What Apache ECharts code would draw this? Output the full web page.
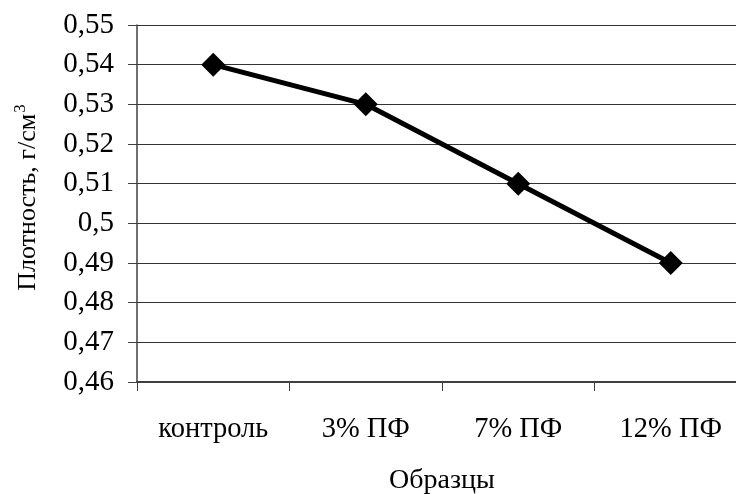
<!DOCTYPE html>
<html>
<head>
<meta charset="utf-8">
<script src="https://cdn.jsdelivr.net/npm/echarts@6/dist/echarts.min.js"></script>
<style>html,body{margin:0;padding:0;background:#fff}#c{width:736px;height:494px}</style>
</head>
<body>
<div id="c"></div>
<script>
const categories = ['контроль', '3% ПФ', '7% ПФ', '12% ПФ'];
const densityValues = [0.54, 0.53, 0.51, 0.49];
const yMin = 0.46, yMax = 0.55, yStep = 0.01;

const FONT = '"Liberation Serif", "Times New Roman", serif';
const chart = echarts.init(document.getElementById('c'));
chart.setOption({
  animation: false,
  backgroundColor: '#fff',
  grid: { left: 137, top: 25, width: 610, height: 357, containLabel: false, outerBoundsMode: 'none' },
  xAxis: {
    type: 'category',
    data: categories,
    boundaryGap: true,
    name: 'Образцы',
    nameLocation: 'middle',
    nameGap: 85,
    nameTextStyle: { fontFamily: FONT, fontSize: 28, color: '#000' },
    axisLine: { lineStyle: { color: '#404040', width: 2 } },
    axisTick: { show: true, length: 9, alignWithLabel: false, lineStyle: { color: '#404040', width: 1 } },
    axisLabel: { fontFamily: FONT, fontSize: 28.5, color: '#000', margin: 33 },
    splitLine: { show: false }
  },
  yAxis: {
    type: 'value',
    min: yMin, max: yMax, interval: yStep,
    name: '{a|Плотность, г/см}{s|3}',
    nameLocation: 'middle',
    nameRotate: 90,
    nameGap: 92,
    nameTextStyle: {
      fontFamily: FONT, fontSize: 26, color: '#000',
      padding: [0, 0, 0, 12],
      rich: {
        a: { fontFamily: FONT, fontSize: 26, color: '#000' },
        s: { fontFamily: FONT, fontSize: 17, color: '#000', padding: [0, 0, 16, 1] }
      }
    },
    axisLine: { show: true, lineStyle: { color: '#404040', width: 1.5 } },
    axisTick: { show: true, length: 9, lineStyle: { color: '#404040', width: 1 } },
    axisLabel: {
      fontFamily: FONT, fontSize: 29, color: '#000', margin: 23,
      formatter: v => String(+v.toFixed(2)).replace('.', ',')
    },
    splitLine: { show: true, lineStyle: { color: '#333', width: 1 } }
  },
  series: [{
    type: 'line',
    data: densityValues,
    symbol: 'diamond',
    symbolSize: 24,
    lineStyle: { color: '#000', width: 5 },
    itemStyle: { color: '#000' }
  }]
});
</script>
</body>
</html>
